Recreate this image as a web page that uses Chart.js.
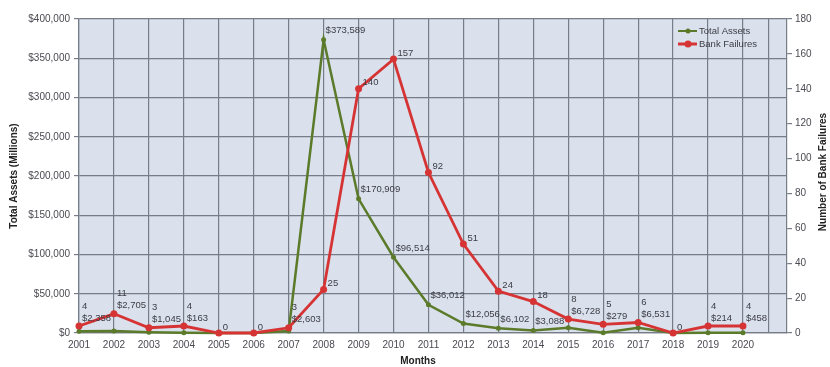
<!DOCTYPE html>
<html>
<head>
<meta charset="utf-8">
<script src="https://cdn.jsdelivr.net/npm/chart.js@4.4.1/dist/chart.umd.min.js"></script>
<style>
  html, body { margin: 0; padding: 0; background: #ffffff; }
  #wrap { width: 830px; height: 367px; }
</style>
</head>
<body>
<div id="wrap"><canvas id="c" width="830" height="367"></canvas></div>
<script>
// Bank failures and total assets of failed banks, by year
const years = [2001, 2002, 2003, 2004, 2005, 2006, 2007, 2008, 2009, 2010,
               2011, 2012, 2013, 2014, 2015, 2016, 2017, 2018, 2019, 2020];
const totalAssets = [2358, 2705, 1045, 163, 0, 0, 2603, 373589, 170909, 96514,
                     36012, 12056, 6102, 3088, 6728, 279, 6531, 0, 214, 458];
const bankFailures = [4, 11, 3, 4, 0, 0, 3, 25, 140, 157,
                      92, 51, 24, 18, 8, 5, 6, 0, 4, 4];
const assetTicks = [0, 50000, 100000, 150000, 200000, 250000, 300000, 350000, 400000];
const failureTicks = [0, 20, 40, 60, 80, 100, 120, 140, 160, 180];
const seriesNames = ['Total Assets', 'Bank Failures'];

const GREEN = '#5b7b2b';
const RED = '#d63434';
const GRID = '#767c88';
const TEXT = '#3c3c44';
const FONT = "'Liberation Sans', Arial, sans-serif";

Chart.defaults.font.family = FONT;
Chart.defaults.font.size = 10;
Chart.defaults.color = '#4a4a52';

const money = v => '$' + Number(v).toLocaleString('en-US');

// Light panel behind the plot area
const panelBg = {
  id: 'panelBg',
  beforeDraw(chart) {
    const { ctx, chartArea: a } = chart;
    ctx.save();
    ctx.fillStyle = '#dae1ed';
    ctx.fillRect(a.left, a.top, a.right - a.left, a.bottom - a.top);
    ctx.restore();
  }
};

// Value labels next to each point; when both points sit close together
// the two labels are stacked above them
const valueLabels = {
  id: 'valueLabels',
  afterDatasetsDraw(chart) {
    const { ctx, chartArea: a } = chart;
    const gm = chart.getDatasetMeta(0).data;
    const rm = chart.getDatasetMeta(1).data;
    ctx.save();
    ctx.font = '9.5px ' + FONT;
    ctx.fillStyle = TEXT;
    ctx.textAlign = 'left';
    ctx.textBaseline = 'middle';
    years.forEach((yr, i) => {
      const g = gm[i], r = rm[i];
      const hasAsset = totalAssets[i] > 0;
      const close = hasAsset && Math.abs(r.y - g.y) < 20;
      if (close) {
        const ay = Math.min(g.y - 9, r.y - 8, a.bottom - 12);
        ctx.fillText(money(totalAssets[i]), g.x + 3, ay);
        ctx.fillText(String(bankFailures[i]), r.x + 3, ay - 12);
      } else {
        if (hasAsset) ctx.fillText(money(totalAssets[i]), g.x + 2, Math.min(g.y - 9, a.bottom - 12));
        ctx.fillText(String(bankFailures[i]), r.x + 4, r.y - 6);
      }
    });
    ctx.restore();
  }
};

// Legend inside the plot, right-hand axis title and x axis title
const extras = {
  id: 'extras',
  afterDraw(chart) {
    const { ctx, chartArea: a } = chart;
    ctx.save();
    const colors = [GREEN, RED];
    const widths = [2, 3];
    const radii = [2.5, 3.5];
    seriesNames.forEach((name, k) => {
      const y = a.top + 12 + k * 13;
      const x0 = a.right - 109;
      ctx.strokeStyle = colors[k];
      ctx.lineWidth = widths[k];
      ctx.beginPath();
      ctx.moveTo(x0, y);
      ctx.lineTo(x0 + 19, y);
      ctx.stroke();
      ctx.fillStyle = colors[k];
      ctx.beginPath();
      ctx.arc(x0 + 10, y, radii[k], 0, Math.PI * 2);
      ctx.fill();
      ctx.fillStyle = TEXT;
      ctx.font = '9.5px ' + FONT;
      ctx.textAlign = 'left';
      ctx.textBaseline = 'middle';
      ctx.fillText(name, x0 + 21, y);
    });
    ctx.font = 'bold 10px ' + FONT;
    ctx.fillStyle = '#222';
    ctx.textAlign = 'center';
    ctx.textBaseline = 'middle';
    ctx.translate(823, (a.top + a.bottom) / 2 - 4);
    ctx.rotate(-Math.PI / 2);
    ctx.fillText('Number of Bank Failures', 0, 0);
    ctx.restore();
    ctx.save();
    ctx.font = 'bold 10px ' + FONT;
    ctx.fillStyle = '#222';
    ctx.textAlign = 'center';
    ctx.textBaseline = 'middle';
    ctx.fillText('Months', (a.left + a.right) / 2 - 15, 361);
    ctx.restore();
  }
};

new Chart(document.getElementById('c'), {
  type: 'line',
  data: {
    datasets: [
      {
        label: seriesNames[0],
        data: years.map((x, i) => ({ x, y: totalAssets[i] })),
        yAxisID: 'y',
        borderColor: GREEN,
        backgroundColor: GREEN,
        borderWidth: 2.5,
        pointRadius: 2.5,
        pointBackgroundColor: GREEN,
        pointBorderWidth: 0,
        tension: 0,
        clip: false,
        order: 1
      },
      {
        label: seriesNames[1],
        data: years.map((x, i) => ({ x, y: bankFailures[i] })),
        yAxisID: 'y1',
        borderColor: RED,
        backgroundColor: RED,
        borderWidth: 2.8,
        pointRadius: 3.5,
        pointBackgroundColor: RED,
        pointBorderWidth: 0,
        tension: 0,
        clip: false,
        order: 0
      }
    ]
  },
  options: {
    responsive: false,
    animation: false,
    devicePixelRatio: 1,
    layout: { padding: { top: 19, left: 0, right: 0, bottom: 0 } },
    plugins: {
      legend: { display: false },
      tooltip: { enabled: false }
    },
    scales: {
      x: {
        type: 'linear',
        min: years[0],
        max: 2021.26,
        afterBuildTicks: s => {
          s.ticks = years.map(v => ({ value: v })).concat([{ value: 2020.72 }]);
        },
        afterFit: s => { s.height = 34; },
        ticks: {
          autoSkip: false,
          maxRotation: 0,
          padding: 6,
          color: '#4a4a52',
          font: { size: 10 },
          callback: v => Number.isInteger(v) ? String(v) : ''
        },
        grid: { color: GRID, lineWidth: 1.2, drawTicks: false },
        border: { color: GRID, width: 1.2 }
      },
      y: {
        position: 'left',
        min: assetTicks[0],
        max: assetTicks[assetTicks.length - 1],
        afterBuildTicks: s => { s.ticks = assetTicks.map(v => ({ value: v })); },
        afterFit: s => { s.width = 79; },
        ticks: { padding: 4, callback: v => money(v), color: '#4a4a52' },
        grid: { color: GRID, lineWidth: 1.2, tickLength: 5 },
        border: { color: GRID, width: 1.2 },
        title: {
          display: true,
          text: 'Total Assets (Millions)',
          color: '#222',
          font: { size: 10, weight: 'bold' },
          padding: { top: 8, bottom: 0 }
        }
      },
      y1: {
        position: 'right',
        min: failureTicks[0],
        max: failureTicks[failureTicks.length - 1],
        afterBuildTicks: s => { s.ticks = failureTicks.map(v => ({ value: v })); },
        afterFit: s => { s.width = 43; },
        ticks: { padding: 3, color: '#4a4a52' },
        grid: { drawOnChartArea: false, color: GRID, lineWidth: 1.2, tickLength: 5 },
        border: { color: GRID, width: 1.2 }
      }
    }
  },
  plugins: [panelBg, valueLabels, extras]
});
</script>
</body>
</html>
